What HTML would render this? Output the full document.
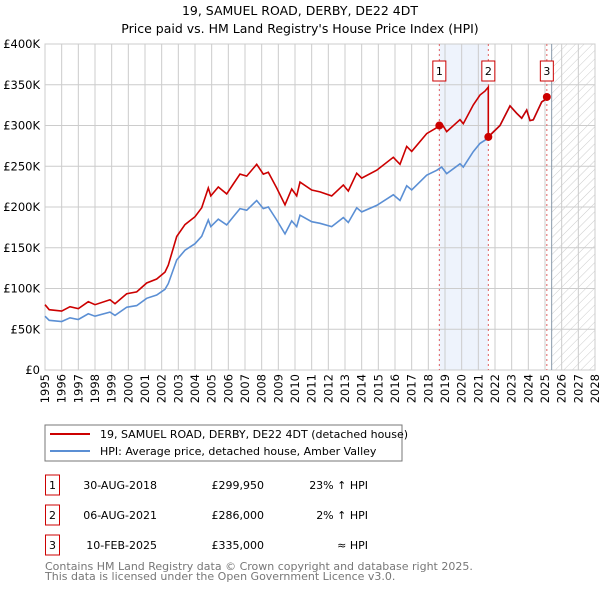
<!DOCTYPE html>
<html><head><meta charset="utf-8"><style>
body{margin:0;background:#fff;width:600px;height:590px;overflow:hidden;font-family:"DejaVu Sans","Liberation Sans",sans-serif}
svg text{font-family:"DejaVu Sans","Liberation Sans",sans-serif}
</style></head><body>
<svg id="c" width="600" height="590">
<defs><pattern id="hatch" width="6" height="6" patternUnits="userSpaceOnUse" patternTransform="rotate(45)"><line x1="0" y1="0" x2="0" y2="6" stroke="#ccc" stroke-width="1"/></pattern></defs>
<text x="300" y="15" text-anchor="middle" font-size="12.5">19, SAMUEL ROAD, DERBY, DE22 4DT</text>
<text x="300" y="33" text-anchor="middle" font-size="12.5">Price paid vs. HM Land Registry's House Price Index (HPI)</text>
<g id="grid"></g><g id="marks"></g><g id="axes"></g>
<rect x="45" y="425" width="357" height="36" fill="#fff" stroke="#777"/>
<line x1="50" y1="434" x2="90" y2="434" stroke="#cc0000" stroke-width="2"/>
<text x="100" y="438" font-size="11">19, SAMUEL ROAD, DERBY, DE22 4DT (detached house)</text>
<line x1="50" y1="451" x2="90" y2="451" stroke="#5b8fd4" stroke-width="2"/>
<text x="100" y="455" font-size="11">HPI: Average price, detached house, Amber Valley</text>
<g id="table" font-size="11"></g>
<text x="45" y="570" font-size="11" fill="#777">Contains HM Land Registry data © Crown copyright and database right 2025.</text>
<text x="45" y="580" font-size="11" fill="#777">This data is licensed under the Open Government Licence v3.0.</text>
</svg>
<script>
const hpiYears=[1995,1995.25,1996,1996.5,1997,1997.6,1998,1998.9,1999.2,1999.9,2000.5,2001.1,2001.7,2002.2,2002.4,2002.9,2003.4,2004,2004.4,2004.8,2004.95,2005.4,2005.9,2006.3,2006.7,2007.1,2007.7,2008.1,2008.4,2008.9,2009.4,2009.8,2010.1,2010.3,2011,2011.5,2012.2,2012.9,2013.2,2013.7,2014,2014.9,2015.9,2016.3,2016.7,2017,2017.9,2018.5,2018.8,2019.1,2019.9,2020.1,2020.7,2021.1,2021.4,2021.9,2022.3,2022.9,2023.3,2023.6,2023.9,2024.1,2024.3,2024.8,2025.1];
const hpiValues=[66,61,59.5,64,62,69,66,71,67,77,79,88,92,99,106,135,147,155,164,184,176,185,178,188,198,196,208,198,200,184,167,183,176,190,182,180,176,187,181,199,194,202,215,208,226,221,239,245,249,241,253,249,268,278,282,292,300,324,315,309,319,306,307,329,333];
const saleYears=[2018.66,2021.6,2025.11];
const salePrices=[299.95,286,335];
const saleLabels=["1","2","3"];
const saleDates=["30-AUG-2018","06-AUG-2021","10-FEB-2025"];
const salePriceText=["£299,950","£286,000","£335,000"];
const saleHpiText=["23% ↑ HPI","2% ↑ HPI","≈ HPI"];
const yTicks=[0,50,100,150,200,250,300,350,400];
const yTickLabels=["£0","£50K","£100K","£150K","£200K","£250K","£300K","£350K","£400K"];
const xTicks=[];for(let y=1995;y<=2028;y++)xTicks.push(y);

const X0=45,X1=595,Y0=370,Y1=44;
const xs=y=>X0+(y-1995)*(X1-X0)/33;
const ys=v=>Y0-v*(Y0-Y1)/400;
const NS="http://www.w3.org/2000/svg";
function mk(p,t,a){const e=document.createElementNS(NS,t);for(const k in a)e.setAttribute(k,a[k]);p.appendChild(e);return e;}
function hpiAt(t){for(let i=1;i<hpiYears.length;i++){if(t<=hpiYears[i]){const f=(t-hpiYears[i-1])/(hpiYears[i]-hpiYears[i-1]);return hpiValues[i-1]+f*(hpiValues[i]-hpiValues[i-1]);}}return hpiValues[hpiValues.length-1];}
const grid=document.getElementById('grid'),marks=document.getElementById('marks'),axes=document.getElementById('axes');
// shaded region & hatch
let r=mk(grid,'rect',{x:xs(saleYears[0]),y:Y1,width:xs(saleYears[1])-xs(saleYears[0]),height:Y0-Y1,fill:'#eef3fc'});


r=mk(grid,'rect',{x:xs(2025.4),y:Y1,width:X1-xs(2025.4),height:Y0-Y1,fill:'url(#hatch)'});


xTicks.forEach(y=>{mk(grid,'line',{x1:xs(y),x2:xs(y),y1:Y1,y2:Y0,stroke:'#ccc'});
 const t=mk(axes,'text',{x:0,y:0,'font-size':11.5,'text-anchor':'end',transform:`translate(${xs(y)+4},${Y0+4}) rotate(-90)`});t.textContent=y;
 
 });
yTicks.forEach((v,i)=>{mk(grid,'line',{x1:X0,x2:X1,y1:ys(v),y2:ys(v),stroke:'#ccc'});
 const t=mk(axes,'text',{x:40,y:ys(v)+4,'font-size':11.5,'text-anchor':'end'});t.textContent=yTickLabels[i];
 
 });
mk(grid,'rect',{x:X0,y:Y1,width:X1-X0,height:Y0-Y1,fill:'none',stroke:'#ccc'});
mk(grid,'line',{x1:xs(2025.4),x2:xs(2025.4),y1:Y1,y2:Y0,stroke:'#8899aa'});
saleYears.forEach(s=>mk(grid,'line',{x1:xs(s),x2:xs(s),y1:Y1,y2:Y0,stroke:'#e06060','stroke-dasharray':'2,3'}));
// lines
const ratios=saleYears.map((s,i)=>salePrices[i]/hpiAt(s));
let hp='',rp='';
const pts=[...hpiYears];saleYears.forEach(s=>{pts.push(s-0.001,s)});pts.sort((a,b)=>a-b);
pts.forEach((t,i)=>{const h=hpiAt(t);let k=0;for(let j=0;j<saleYears.length;j++)if(t>=saleYears[j])k=j;
 const rv=h*ratios[k];hp+=(i?'L':'M')+xs(t).toFixed(1)+' '+ys(h).toFixed(1);rp+=(i?'L':'M')+xs(t).toFixed(1)+' '+ys(rv).toFixed(1);});
let p=mk(marks,'path',{d:hp,fill:'none',stroke:'#5b8fd4','stroke-width':1.6});


p=mk(marks,'path',{d:rp,fill:'none',stroke:'#cc0000','stroke-width':1.6});


saleYears.forEach((s,i)=>{const c=mk(marks,'circle',{cx:xs(s),cy:ys(salePrices[i]),r:4,fill:'#cc0000'});
 
 
 const g=mk(marks,'g',{});
 
 
 mk(g,'rect',{x:xs(s)-6.5,y:61,width:13,height:20,fill:'#fff',stroke:'#cc0000'});
 const t=mk(g,'text',{x:xs(s),y:75,'font-size':11,'text-anchor':'middle'});t.textContent=saleLabels[i];});
// table
const tb=document.getElementById('table');
saleYears.forEach((s,i)=>{const y=485+i*30;const g=mk(tb,'g',{});
 
 
 mk(g,'rect',{x:45.5,y:y-10,width:14,height:20,fill:'#fff',stroke:'#cc0000'});
 let t=mk(g,'text',{x:52.5,y:y+4,'text-anchor':'middle'});t.textContent=saleLabels[i];
 t=mk(g,'text',{x:157,y:y+4,'text-anchor':'end'});t.textContent=saleDates[i];
 t=mk(g,'text',{x:264,y:y+4,'text-anchor':'end'});t.textContent=salePriceText[i];
 t=mk(g,'text',{x:368,y:y+4,'text-anchor':'end'});t.textContent=saleHpiText[i];});
</script>
</body></html>
